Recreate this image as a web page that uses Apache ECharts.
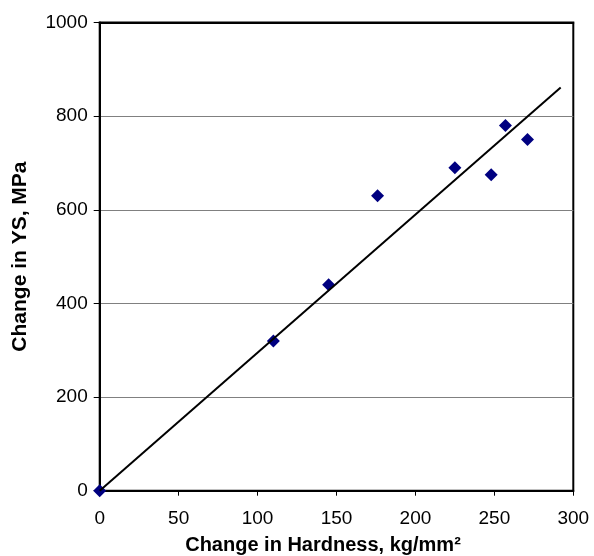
<!DOCTYPE html>
<html>
<head>
<meta charset="utf-8">
<script src="https://cdn.jsdelivr.net/npm/echarts@6/dist/echarts.min.js"></script>
<style>html,body{margin:0;padding:0;background:#fff}#c{width:594px;height:556px}</style>
</head>
<body>
<div id="c"></div>
<script>
var hardness = [0, 110, 145, 176, 225, 248, 257, 271];
var ys = [0, 320, 440, 630, 690, 675, 780, 750];
var trendX = [0, 292];
var trendY = [0, 861];

var chart = echarts.init(document.getElementById('c'));
var font = '"Liberation Sans", Arial, sans-serif';
chart.setOption({
  animation: false,
  grid: {left: 99.7, right: 20.7, top: 22.5, bottom: 65.3, outerBoundsMode: 'none', containLabel: false, show: true, borderColor: '#000', borderWidth: 2, backgroundColor: 'transparent'},
  xAxis: [{
    type: 'value', min: 0, max: 300, interval: 50,
    name: 'Change in Hardness, kg/mm²', nameLocation: 'middle', nameGap: 45,
    nameTextStyle: {fontFamily: font, fontWeight: 'bold', fontSize: 20, color: '#000', padding: [0, 27, 0, 0]},
    axisLine: {show: true, lineStyle: {color: '#000', width: 2}},
    axisTick: {show: true, inside: false, length: 5, lineStyle: {color: '#000', width: 1}},
    axisLabel: {fontFamily: font, fontSize: 19, color: '#000', margin: 19},
    splitLine: {show: false}
  }, {
    type: 'value', min: 0, max: 300, interval: 50, position: 'top',
    axisLine: {show: true, lineStyle: {color: '#000', width: 2}},
    axisTick: {show: false}, axisLabel: {show: false}, splitLine: {show: false}
  }],
  yAxis: {
    type: 'value', min: 0, max: 1000, interval: 200,
    name: 'Change in YS, MPa', nameLocation: 'middle', nameGap: 69,
    nameTextStyle: {fontFamily: font, fontWeight: 'bold', fontSize: 21, color: '#000'},
    axisLine: {show: true, lineStyle: {color: '#000', width: 2}},
    axisTick: {show: true, inside: false, length: 6, lineStyle: {color: '#000', width: 1}},
    axisLabel: {fontFamily: font, fontSize: 19, color: '#000', margin: 12, formatter: function (v) { return String(v); }},
    splitLine: {show: true, lineStyle: {color: '#808080', width: 1}}
  },
  series: [
    {
      type: 'line',
      data: trendX.map(function (x, i) { return [x, trendY[i]]; }),
      symbol: 'none',
      lineStyle: {color: '#000', width: 2},
      z: 3
    },
    {
      type: 'scatter',
      data: hardness.map(function (x, i) { return [x, ys[i]]; }),
      symbol: 'diamond',
      symbolSize: 13,
      itemStyle: {color: '#000080', opacity: 1},
      z: 2
    }
  ]
});
</script>
</body>
</html>
